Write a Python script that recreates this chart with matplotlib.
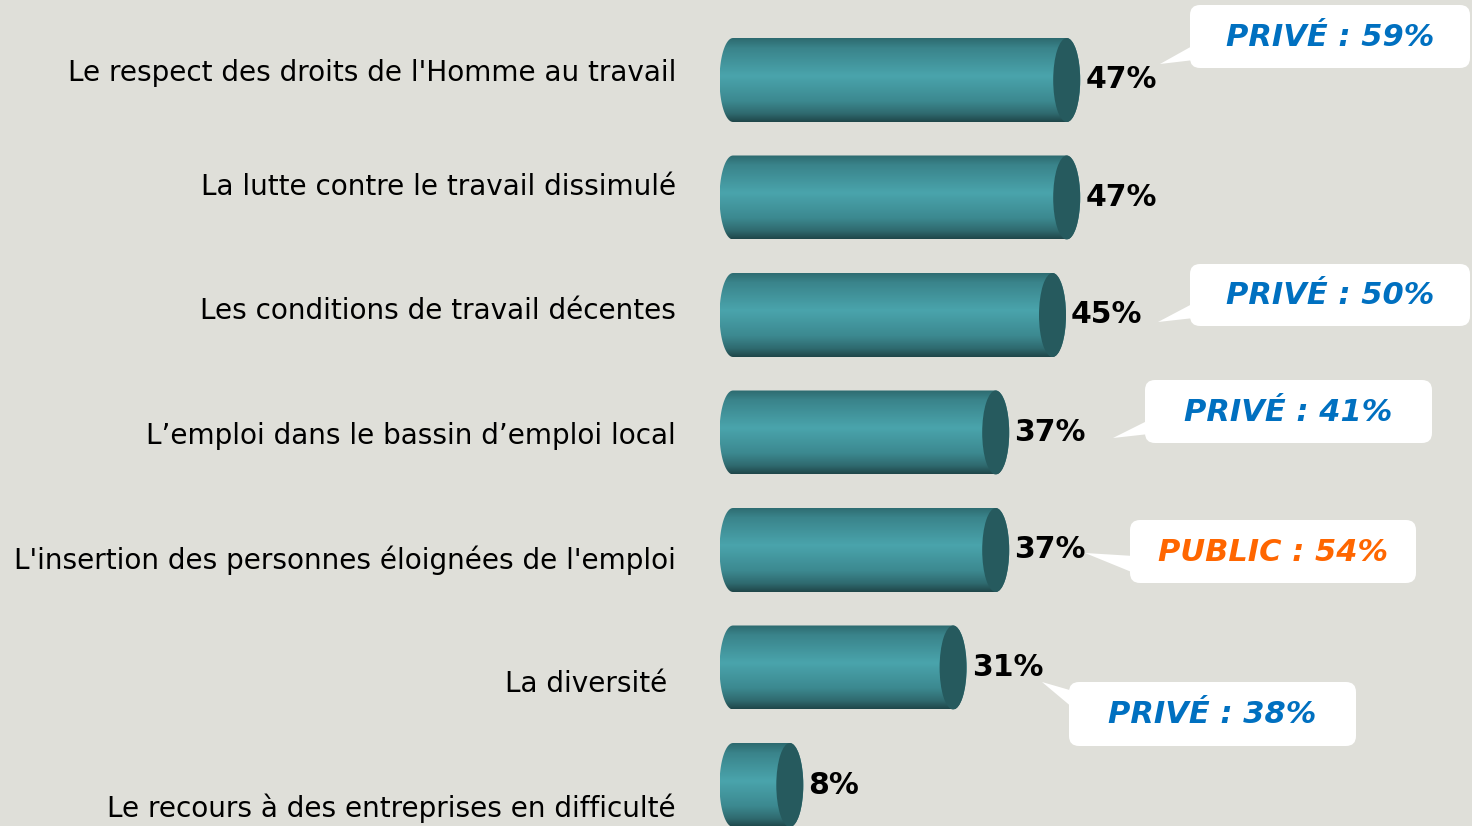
import numpy as np
import matplotlib
matplotlib.use('Agg')
import matplotlib.pyplot as plt
from matplotlib.path import Path
from matplotlib.patches import PathPatch, Ellipse, FancyBboxPatch, Polygon
from matplotlib.colors import LinearSegmentedColormap

# données
categories = [
    "Le respect des droits de l'Homme au travail",
    "La lutte contre le travail dissimulé",
    "Les conditions de travail décentes",
    "L’emploi dans le bassin d’emploi local",
    "L'insertion des personnes éloignées de l'emploi",
    "La diversité ",
    "Le recours à des entreprises en difficulté",
]
values = [47, 47, 45, 37, 37, 31, 8]

# bulles : ligne concernée, secteur, pourcentage
callout_rows = [0, 2, 3, 4, 5]
callout_sector = ["PRIVÉ", "PRIVÉ", "PRIVÉ", "PUBLIC", "PRIVÉ"]
callout_pct = [59, 50, 41, 54, 38]

BG = '#dfdfd9'
CAP = '#265a5e'
sector_color = {"PRIVÉ": '#0070c0', "PUBLIC": '#ff6600'}

W, H = 1472, 826
# echelle pixel -> donnees
X0, SX = 733, 7.1      # x pixel du zero, pixels par %
Y0, SY = 80, 117.5     # centre de la 1ere barre, pas entre barres

def px_x(p):
    return (p - X0) / SX

def px_y(p):
    return (p - Y0) / SY

fig = plt.figure(figsize=(W / 100, H / 100), dpi=100, facecolor=BG)
ax = fig.add_axes([0, 0, 1, 1])
ax.set_facecolor(BG)
ax.set_xlim(px_x(0), px_x(W))
ax.set_ylim(px_y(H), px_y(0))
ax.axis('off')

cmap = LinearSegmentedColormap.from_list('cyl', [
    (0.0, '#2d6a6f'), (0.12, '#3a848b'), (0.45, '#4aa4ac'),
    (0.75, '#3c8990'), (0.9, '#2f6a6f'), (1.0, '#1f4649')])
grad = np.linspace(0, 1, 256).reshape(-1, 1)

bar_h = 84 / SY
a = 13.5 / SX   # demi-largeur des ellipses
b = bar_h / 2

for i, v in enumerate(values):
    t1 = np.linspace(np.pi / 2, 3 * np.pi / 2, 40)
    t2 = np.linspace(3 * np.pi / 2, 5 * np.pi / 2, 40)
    xs = np.concatenate([a * np.cos(t1), v + a * np.cos(t2)])
    ys = np.concatenate([i + b * np.sin(t1), i + b * np.sin(t2)])
    verts = np.column_stack([xs, ys])
    body = PathPatch(Path(np.vstack([verts, verts[:1]]), closed=True),
                     fc='none', ec='none', transform=ax.transData)
    ax.add_patch(body)
    im = ax.imshow(grad, extent=[-a, v + a, i + b, i - b], aspect='auto',
                   cmap=cmap, zorder=2, interpolation='bilinear')
    im.set_clip_path(body)
    ax.add_patch(Ellipse((v, i), 2 * a, bar_h, fc=CAP, ec='none', zorder=3))
    ax.text(v + a + 5 / SX, i, f"{v}%", fontsize=21.5, fontweight='bold',
            color='black', va='center', ha='left', zorder=4)

# libelles
label_dy = [-7, -10, -4, 4, 10, 17, 23]
for i, lab in enumerate(categories):
    ax.text(px_x(676), i + label_dy[i] / SY, lab, fontsize=20.1, ha='right',
            va='center', color='black')

ax.set_xlim(px_x(0), px_x(W))
ax.set_ylim(px_y(H), px_y(0))

# bulles (en pixels: boite gauche, haut, droite, bas ; pointe ; base de la queue)
boxes = [(1190, 5, 1470, 68), (1190, 264, 1470, 326), (1145, 380, 1432, 443),
         (1130, 520, 1416, 583), (1069, 682, 1356, 746)]
tips = [(1160, 64), (1158, 322), (1113, 438), (1085, 553), (1042, 682)]
bases = [(45, 60), (303, 318), (420, 434), (556, 573), (691, 708)]

r = 10
for k in range(len(callout_rows)):
    l, t, rr, bt = boxes[k]
    box = FancyBboxPatch((px_x(l), px_y(t)), (rr - l) / SX, (bt - t) / SY,
                         boxstyle=f"round,pad=0,rounding_size={r / SX}",
                         mutation_aspect=SX / SY, fc='white', ec='none', zorder=5)
    ax.add_patch(box)
    tx, ty = tips[k]
    b1, b2 = bases[k]
    ax.add_patch(Polygon([(px_x(tx), px_y(ty)), (px_x(l + 4), px_y(b1)),
                          (px_x(l + 4), px_y(b2))], closed=True,
                         fc='white', ec='none', zorder=5))
    ax.text(px_x((l + rr) / 2), px_y((t + bt) / 2 + 1),
            f"{callout_sector[k]} : {callout_pct[k]}%", fontsize=22,
            fontweight='bold', fontstyle='italic',
            color=sector_color[callout_sector[k]], ha='center', va='center',
            zorder=6)

fig.savefig('out.png', dpi=100, facecolor=BG)
